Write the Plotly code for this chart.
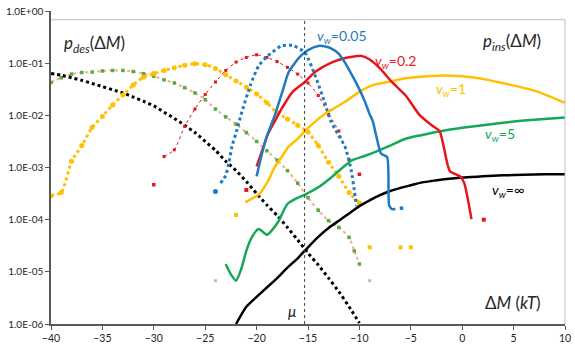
import plotly.graph_objects as go

# ---------------- data (log10 values) ----------------
# p_ins curves (solid)
ins_inf_x = [-22, -21, -20, -19, -18, -17, -16, -15, -14, -13, -12, -11, -10, -9, -8, -7, -6, -5, -4, -3, -2, -1, 0, 2, 4, 6, 8, 10]
ins_inf_y = [-6.0, -5.67, -5.48, -5.30, -5.12, -4.92, -4.74, -4.53, -4.33, -4.16, -4.02, -3.88, -3.74, -3.63, -3.53, -3.45, -3.39, -3.34, -3.29, -3.26, -3.23, -3.21, -3.19, -3.17, -3.15, -3.14, -3.13, -3.13]

ins_5_x = [-23.0, -22.5, -22.0, -21.5, -21.0, -20.5, -19.8, -19.0, -18.5, -17.9, -17.0, -16.0, -15.3, -14.0, -12.8, -11.5, -10.8, -9.5, -8.2, -7.0, -5.5, -4.0, -2.0, 0, 2, 4, 6, 8, 10]
ins_5_y = [-4.85, -5.05, -5.17, -4.95, -4.60, -4.35, -4.18, -4.29, -4.20, -4.04, -3.70, -3.58, -3.52, -3.38, -3.20, -2.98, -2.87, -2.78, -2.68, -2.58, -2.45, -2.38, -2.30, -2.24, -2.19, -2.14, -2.10, -2.07, -2.04]

ins_1_x = [-21.1, -20.5, -19.8, -19.0, -18.2, -17.5, -16.9, -16.0, -15.3, -14.3, -13.4, -12.4, -11.4, -10.0, -8.7, -7.0, -5.5, -4.0, -2.3, -1.0, 0.9, 2.5, 4.1, 5.5, 7.4, 9.0, 10.0]
ins_1_y = [-3.67, -3.60, -3.52, -3.30, -2.98, -2.78, -2.60, -2.45, -2.30, -2.12, -1.98, -1.86, -1.74, -1.55, -1.42, -1.35, -1.29, -1.26, -1.24, -1.24, -1.27, -1.32, -1.39, -1.45, -1.55, -1.68, -1.76]

ins_02_x = [-20.0, -19.5, -18.9, -18.2, -17.5, -16.5, -15.3, -14.5, -13.7, -12.5, -11.4, -10.5, -9.8, -9.0, -8.0, -6.8, -5.5, -4.2, -2.9, -2.2, -1.8, -1.2, -0.2, 0.2, 0.9]
ins_02_y = [-2.98, -2.70, -2.36, -2.10, -1.85, -1.55, -1.36, -1.20, -1.09, -0.97, -0.90, -0.87, -0.86, -0.93, -1.10, -1.37, -1.62, -1.98, -2.20, -2.30, -2.60, -3.07, -3.17, -3.30, -3.99]
ins_02_dots_x = [-21.0, 2.1]
ins_02_dots_y = [-3.43, -4.0]

ins_005_x = [-20.0, -19.5, -19.0, -18.2, -17.5, -16.9, -16.3, -15.7, -15.0, -14.0, -13.3, -12.8, -12.0, -11.4, -10.8, -10.2, -9.5, -9.0, -8.7, -8.4, -7.9, -7.3, -7.1, -6.8, -6.5]
ins_005_y = [-3.17, -2.75, -2.40, -1.98, -1.55, -1.18, -1.00, -0.86, -0.75, -0.67, -0.68, -0.71, -0.82, -0.99, -1.20, -1.42, -1.72, -1.98, -2.11, -2.36, -2.73, -2.80, -3.73, -3.80, -3.79]
ins_005_dots_x = [-5.9]
ins_005_dots_y = [-3.78]

# p_des curves (dotted)
des_inf_x = list(range(-40, -9))
des_inf_y = [-1.20, -1.23, -1.28, -1.33, -1.39, -1.45, -1.51, -1.57, -1.65, -1.73, -1.82, -1.94, -2.06, -2.19, -2.33, -2.50, -2.67, -2.88, -3.06, -3.27, -3.50, -3.72, -3.92, -4.15, -4.39, -4.64, -4.87, -5.12, -5.38, -5.67, -5.98]

des_5_x = [-40, -39, -38, -37, -36, -35, -34, -33, -32, -31, -30, -29, -28, -27, -26, -25, -24, -23, -22, -21, -20, -19, -18, -17, -16, -15, -14, -13, -12, -11, -10.5, -10]
des_5_y = [-1.37, -1.28, -1.21, -1.18, -1.17, -1.15, -1.14, -1.14, -1.16, -1.20, -1.25, -1.32, -1.38, -1.47, -1.57, -1.70, -1.88, -2.03, -2.17, -2.33, -2.50, -2.68, -2.86, -3.06, -3.30, -3.58, -3.82, -4.02, -4.15, -4.34, -4.60, -4.85]
des_5_dots_x = [-24.0, -9.0]
des_5_dots_y = [-5.17, -5.17]

des_1_x = list(range(-40, -9))
des_1_y = [-3.54, -3.48, -2.88, -2.58, -2.23, -2.02, -1.80, -1.61, -1.42, -1.27, -1.20, -1.14, -1.09, -1.04, -1.01, -1.03, -1.10, -1.22, -1.34, -1.46, -1.59, -1.76, -1.95, -2.07, -2.19, -2.32, -2.58, -2.90, -3.17, -3.48, -3.68]
des_1_dots_x = [-22.0, -9.0, -6.0, -5.0]
des_1_dots_y = [-3.91, -4.53, -4.53, -4.53]

des_02_x = list(range(-29, -10))
des_02_y = [-2.79, -2.66, -2.21, -1.88, -1.60, -1.36, -1.14, -0.98, -0.89, -0.84, -0.89, -0.97, -1.08, -1.21, -1.38, -1.62, -1.98, -2.30, -2.85]
des_02_dots_x = [-30.0, -10.0]
des_02_dots_y = [-3.33, -3.13]

des_005_x = [-23.5, -23.0, -22.7, -22.4, -21.9, -21.5, -20.6, -19.8, -18.9, -17.6, -16.5, -15.3, -14.3, -13.4, -12.8, -12.1, -11.4, -10.8, -10.5, -10.3]
des_005_y = [-3.30, -3.15, -2.92, -2.60, -2.27, -1.98, -1.42, -1.05, -0.86, -0.67, -0.66, -0.80, -1.24, -1.74, -2.10, -2.36, -2.60, -3.05, -3.43, -3.73]
des_005_dots_x = [-24.0]
des_005_dots_y = [-3.46]

mu = -15.33

y_tickvals = [1e-6, 1e-5, 1e-4, 1e-3, 1e-2, 1e-1, 1]
y_ticktext = ["1.0E-06", "1.0E-05", "1.0E-04", "1.0E-03", "1.0E-02", "1.0E-01", "1.0E+00"]
x_tickvals = [-40, -35, -30, -25, -20, -15, -10, -5, 0, 5, 10]

# ---------------- colours ----------------
BLUE = "#1f7ac0"
RED = "#e8141c"
YEL = "#ffc000"
GRN = "#16a856"
BLK = "#000000"
SAL = "#f4b183"
GRN2 = "#58a84a"


def p(v):
    return [10 ** a for a in v]


fig = go.Figure()


def line(x, y, color, width, dash="solid", mode="lines", msize=0, mcolor=None, msym="circle"):
    fig.add_trace(go.Scatter(x=x, y=p(y), mode=mode,
                             line=dict(color=color, width=width, dash=dash, shape="spline", smoothing=0.6),
                             marker=dict(size=msize, color=mcolor or color, symbol=msym),
                             showlegend=False, hoverinfo="skip"))


def dots(x, y, color, size, sym="square"):
    fig.add_trace(go.Scatter(x=x, y=p(y), mode="markers",
                             marker=dict(size=size, color=color, symbol=sym),
                             showlegend=False, hoverinfo="skip"))


# des (dotted) curves
line(des_5_x, des_5_y, SAL, 2, dash="dot", mode="lines+markers", msize=3.5, mcolor=GRN2, msym="square")
dots(des_5_dots_x, des_5_dots_y, "#a9c9a0", 3)
line(des_inf_x, des_inf_y, BLK, 3, dash="dot")
line(des_1_x, des_1_y, YEL, 3, dash="dot", mode="lines+markers", msize=5)
dots(des_1_dots_x, des_1_dots_y, YEL, 4)
line(des_02_x, des_02_y, RED, 1, dash="dot", mode="lines+markers", msize=3, msym="square")
dots(des_02_dots_x, des_02_dots_y, RED, 3.5)
line(des_005_x, des_005_y, BLUE, 3, dash="dot")
dots(des_005_dots_x, des_005_dots_y, BLUE, 5, "circle")

# ins (solid) curves
line(ins_inf_x, ins_inf_y, BLK, 2.5)
line(ins_5_x, ins_5_y, GRN, 2.5)
line(ins_1_x, ins_1_y, YEL, 2.5)
line(ins_02_x, ins_02_y, RED, 2.5)
dots(ins_02_dots_x, ins_02_dots_y, RED, 4)
line(ins_005_x, ins_005_y, BLUE, 2.5)
dots(ins_005_dots_x, ins_005_dots_y, BLUE, 3.5)

FONT = "Lato, 'Liberation Sans', sans-serif"
TXT = "#262626"

fig.update_layout(
    width=575, height=348,
    margin=dict(l=51, r=6, t=4, b=24),
    paper_bgcolor="white", plot_bgcolor="white",
    font=dict(family=FONT, size=10, color=TXT),
    xaxis=dict(range=[-40, 10], tickvals=x_tickvals, ticks="outside", ticklen=4,
               tickcolor="#595959", showline=True, linecolor="#595959", linewidth=1.5,
               showgrid=False, zeroline=False, tickfont=dict(size=10.5, color=TXT),
               ticklabeloverflow="allow"),
    yaxis=dict(type="log", range=[-6, 0], tickvals=y_tickvals, ticktext=y_ticktext,
               ticks="outside", ticklen=4, tickcolor="#595959", showline=True,
               linecolor="#595959", linewidth=1.5, showgrid=False, zeroline=False,
               tickfont=dict(size=10, color=TXT), ticklabeloverflow="allow"),
)

# border lines (chart frame) and mu line
fig.add_shape(type="line", xref="paper", yref="paper", x0=0, x1=1, y0=0.972, y1=0.972,
              line=dict(color="#bfbfbf", width=1))
fig.add_shape(type="line", xref="paper", yref="paper", x0=1, x1=1, y0=0, y1=0.972,
              line=dict(color="#bfbfbf", width=1))
fig.add_shape(type="line", xref="x", yref="paper", x0=mu, x1=mu, y0=0, y1=0.972,
              line=dict(color="#404040", width=1, dash="dot"))


def ann(text, x, y, color, size, xanchor="left"):
    fig.add_annotation(text=text, xref="paper", yref="paper", x=x, y=y, showarrow=False,
                       xanchor=xanchor, yanchor="middle", font=dict(size=size, color=color, family=FONT))


ann("<i>p</i><sub><i>des</i></sub>(Δ<i>M</i>)", 0.021, 0.895, TXT, 17)
ann("<i>p</i><sub><i>ins</i></sub>(Δ<i>M</i>)", 0.836, 0.900, TXT, 17)
ann("<i>v</i><sub><i>w</i></sub>=0.05", 0.513, 0.918, BLUE, 14)
ann("<i>v</i><sub><i>w</i></sub>=0.2", 0.627, 0.840, RED, 14)
ann("<i>v</i><sub><i>w</i></sub>=1", 0.745, 0.749, YEL, 14)
ann("<i>v</i><sub><i>w</i></sub>=5", 0.840, 0.606, GRN, 14)
ann("<i>v</i><sub><i>w</i></sub>=∞", 0.855, 0.428, BLK, 14)
ann("<i>μ</i>", 0.468, 0.040, TXT, 15, xanchor="center")
ann("Δ<i>M</i> (<i>kT</i>)", 0.840, 0.069, TXT, 17)

fig.write_html("out.html")
